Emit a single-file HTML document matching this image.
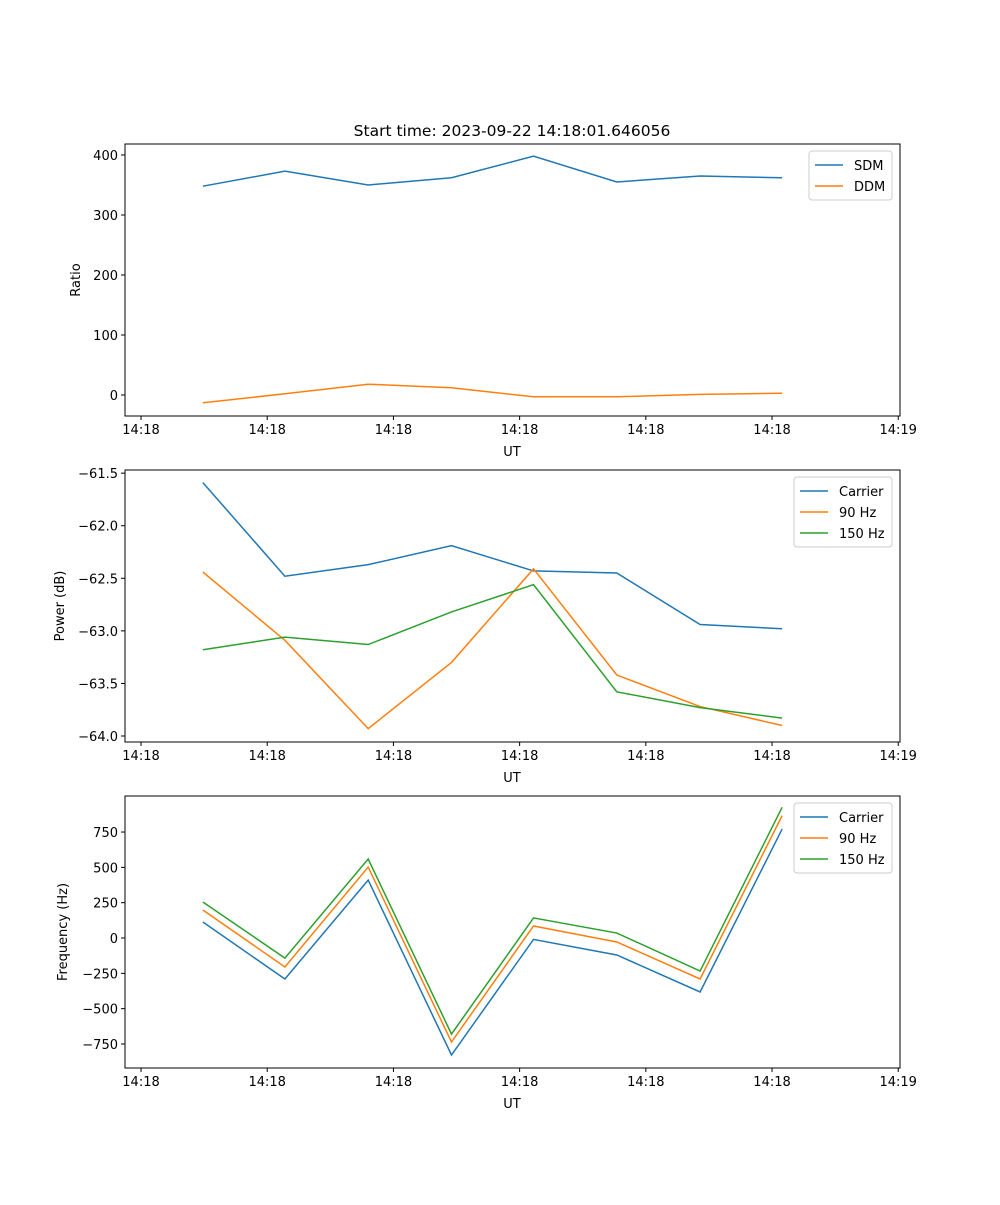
<!DOCTYPE html>
<html><head><meta charset="utf-8"><style>
body{margin:0;background:#fff;font-family:"Liberation Sans","DejaVu Sans",sans-serif}
svg text{font-family:"DejaVu Sans","Liberation Sans",sans-serif;font-size:13px;fill:#000}
</style></head><body>
<svg id="fig" width="1000" height="1200" xmlns="http://www.w3.org/2000/svg">
<text x="512" y="136" text-anchor="middle" style="font-size:15.5px">Start time: 2023-09-22 14:18:01.646056</text>
</svg>
<script>
const times=[4.9,11.4,18.0,24.6,31.1,37.7,44.3,50.8];
const xTicks=[0,10,20,30,40,50,60];
const xTickLabels=["14:18","14:18","14:18","14:18","14:18","14:18","14:19"];
const sdm=[348,373,350,362,398,355,365,362];
const ddm=[-13,2,18,12,-3,-3,1,3];
const pCarrier=[-61.59,-62.48,-62.37,-62.19,-62.43,-62.45,-62.94,-62.98];
const p90=[-62.44,-63.09,-63.93,-63.30,-62.41,-63.42,-63.72,-63.90];
const p150=[-63.18,-63.06,-63.13,-62.82,-62.56,-63.58,-63.73,-63.83];
const fCarrier=[113,-290,410,-828,-10,-120,-382,771];
const f90=[198,-205,502,-736,85,-28,-290,866];
const f150=[255,-142,559,-680,142,35,-234,925];
const ratioTicks=[0,100,200,300,400];
const powerTicks=[-61.5,-62.0,-62.5,-63.0,-63.5,-64.0];
const freqTicks=[750,500,250,0,-250,-500,-750];
const C=["#1f77b4","#ff7f0e","#2ca02c"];
const svg=document.getElementById('fig');const NS="http://www.w3.org/2000/svg";
function el(t,a,p){const e=document.createElementNS(NS,t);for(const k in a)e.setAttribute(k,a[k]);(p||svg).appendChild(e);return e;}
const L=125,R=900;
const xs=v=>L+(v-(-1.27))/(60.14-(-1.27))*(R-L);
function panel(name,top,bot,ymax,ymin,ticks,fmt,series,labels,ylabel,lw){
  const g=el('g',{});
  const ys=v=>top+(ymax-v)/(ymax-ymin)*(bot-top);
  series.forEach((s,i)=>{const p=el('polyline',{points:s.map((v,j)=>xs(times[j])+','+ys(v)).join(' '),fill:'none',stroke:C[i],'stroke-width':1.5},g);
    });
  el('rect',{x:L,y:top,width:R-L,height:bot-top,fill:'none',stroke:'#000','stroke-width':1},g);
  xTicks.forEach((t,i)=>{const x=xs(t);el('line',{x1:x,x2:x,y1:bot,y2:bot+4,stroke:'#000'},g);
    const tx=el('text',{x:x,y:bot+18,'text-anchor':'middle'},g);tx.textContent=xTickLabels[i];
    });
  const xl=el('text',{x:512,y:bot+40,'text-anchor':'middle'},g);xl.textContent='UT';
  
  ticks.forEach(t=>{const y=ys(t);el('line',{x1:L-4,x2:L,y1:y,y2:y,stroke:'#000'},g);
    const tx=el('text',{x:L-7,y:y+5,'text-anchor':'end'},g);tx.textContent=fmt(t);
    });
  const yl=el('text',{x:0,y:0,'text-anchor':'middle',transform:`translate(${ylabel[1]},${(top+bot)/2}) rotate(-90)`},g);yl.textContent=ylabel[0];
  
  const lgw=lw,lgx=R-8-lgw,lgy=top+7,lh=21;
  const lg=el('g',{},g);
  el('rect',{x:lgx,y:lgy,width:lgw,height:labels.length*lh+7,fill:'#fff',stroke:'#ccc',rx:3},lg);
  labels.forEach((s,i)=>{const y=lgy+14+i*lh;el('line',{x1:lgx+6,x2:lgx+34,y1:y,y2:y,stroke:C[i],'stroke-width':1.5},lg);
    const tx=el('text',{x:lgx+45,y:y+5},lg);tx.textContent=s;
    });
}
panel('ratio',144,416,418.3,-35,ratioTicks,v=>v.toString(),[sdm,ddm],['SDM','DDM'],['Ratio',80],83);
panel('power',470,742,-61.47,-64.057,powerTicks,v=>(v<0?'\u2212':'')+Math.abs(v).toFixed(1),[pCarrier,p90,p150],['Carrier','90 Hz','150 Hz'],['Power (dB)',64],98);
panel('frequency',796,1068,1005,-920,freqTicks,v=>(v<0?'\u2212':'')+Math.abs(v),[fCarrier,f90,f150],['Carrier','90 Hz','150 Hz'],['Frequency (Hz)',67],98);
</script>
</body></html>
